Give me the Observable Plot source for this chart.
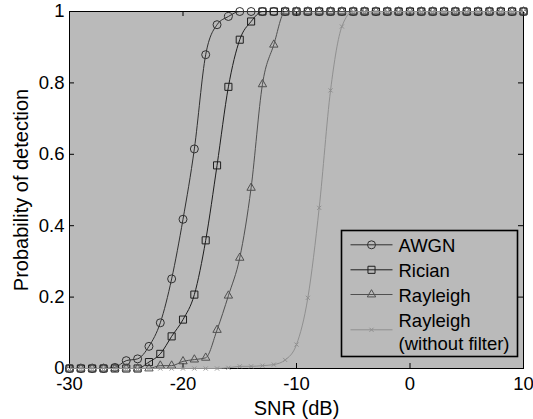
<!DOCTYPE html>
<html><head><meta charset="utf-8">
<script src="https://cdn.jsdelivr.net/npm/d3@7"></script>
<script src="https://cdn.jsdelivr.net/npm/@observablehq/plot@0.6"></script>
<style>body{margin:0;background:#fff;} svg{display:block}</style>
</head><body><div id="chart"></div>
<script>
// ---- data ----
const snr = [-30,-29,-28,-27,-26,-25,-24,-23,-22,-21,-20,-19,-18,-17,-16,-15,-14,-13,-12,-11,-10,-9,-8,-7,-6,-5,-4,-3,-2,-1,0,1,2,3,4,5,6,7,8,9,10];
const awgn = [0,0,0,0,0.003,0.022,0.027,0.062,0.128,0.251,0.418,0.615,0.879,0.963,0.986,1,1,1,1,1,1,1,1,1,1,1,1,1,1,1,1,1,1,1,1,1,1,1,1,1,1];
const rician = [0,0,0,0,0,0,0,0.018,0.041,0.09,0.137,0.207,0.359,0.569,0.789,0.921,0.972,1,1,1,1,1,1,1,1,1,1,1,1,1,1,1,1,1,1,1,1,1,1,1,1];
const rayleigh = [0,0,0,0,0,0,0,0,0.008,0.008,0.02,0.025,0.03,0.108,0.204,0.31,0.506,0.796,0.907,1,1,1,1,1,1,1,1,1,1,1,1,1,1,1,1,1,1,1,1,1,1];
const rayleighNoFilter = [0,0,0,0,0,0,0,0,0,0,0,0,0,0,0.002,0.006,0.006,0.008,0.011,0.024,0.067,0.198,0.45,0.779,0.958,1,1,1,1,1,1,1,1,1,1,1,1,1,1,1,1];
const seriesNames = ["AWGN", "Rician", "Rayleigh", "Rayleigh\n(without filter)"];
const xTicks = [-30, -20, -10, 0, 10];
const yTicks = [0, 0.2, 0.4, 0.6, 0.8, 1];
const xLabel = "SNR (dB)";
const yLabel = "Probability of detection";

// ---- styling ----
const W = 533, H = 419, mL = 69, mR = 10, mT = 11, mB = 51;
const plotW = W - mL - mR, plotH = H - mT - mB;
const bg = "#bababa";
const styles = [
  {values: awgn, symbol: "circle", color: "#303030", r: 4},
  {values: rician, symbol: "square", color: "#1e1e1e", r: 4},
  {values: rayleigh, symbol: "triangle2", color: "#505050", r: 4},
  {values: rayleighNoFilter, symbol: "times", color: "#909090", r: 2}
];
const font = "'Liberation Sans', Arial, Helvetica, sans-serif";
const tickFont = 18.5;

const marks = [
  Plot.frame({fill: bg}),
  Plot.tickX(xTicks, {x: d => d, stroke: "#000", insetTop: plotH - 5}),
  Plot.tickX(xTicks, {x: d => d, stroke: "#000", insetBottom: plotH - 5}),
  Plot.tickY(yTicks, {y: d => d, stroke: "#000", insetRight: plotW - 5}),
  Plot.tickY(yTicks, {y: d => d, stroke: "#000", insetLeft: plotW - 5}),
  Plot.frame({stroke: "#000", strokeWidth: 1}),
  Plot.axisX({ticks: xTicks, tickSize: 0, tickPadding: 8, tickFormat: d => String(d), fontSize: tickFont, label: null}),
  Plot.axisY({ticks: yTicks, tickSize: 0, tickPadding: 5, tickFormat: d => String(d), fontSize: tickFont, label: null}),
  Plot.text([xLabel], {frameAnchor: "bottom", dy: 40, textAnchor: "middle", lineAnchor: "middle", fontSize: 20, text: d => d, fill: "#000"}),
  Plot.text([yLabel], {frameAnchor: "left", dx: -48, rotate: -90, textAnchor: "middle", lineAnchor: "middle", fontSize: 20, text: d => d, fill: "#000"})
];

styles.forEach((s, i) => {
  const rows = snr.map((x, j) => ({snr: x, p: s.values[j]}));
  marks.push(Plot.line(rows, {x: "snr", y: "p", stroke: s.color, strokeWidth: 1, curve: "monotone-x"}));
  marks.push(Plot.dot(rows, {x: "snr", y: "p", stroke: s.color, fill: "none", strokeWidth: 1, symbol: s.symbol, r: s.r}));
});

// ---- legend (inside the plot frame) ----
const legLeft = 341 - mL, legTop = 230 - mT;
marks.push(Plot.frame({insetLeft: legLeft, insetTop: legTop, insetRight: 6, insetBottom: 12, fill: bg, stroke: "#000", strokeWidth: 1.6}));
const rowMarkerY = [233.3, 258.3, 283, 318.3];
const rowTextY = [233.3, 258.3, 283, 320];
const lineSym = {draw(ctx) { ctx.moveTo(-21, 0); ctx.lineTo(21, 0); }};
seriesNames.forEach((name, i) => {
  const s = styles[i];
  marks.push(Plot.dot([name], {frameAnchor: "top-left", dx: 302, dy: rowMarkerY[i], symbol: lineSym, stroke: s.color, fill: "none", strokeWidth: 1}));
  marks.push(Plot.dot([name], {frameAnchor: "top-left", dx: 302, dy: rowMarkerY[i], symbol: s.symbol, r: s.r, stroke: s.color, fill: "none", strokeWidth: 1}));
  marks.push(Plot.text([name], {frameAnchor: "top-left", dx: 329, dy: rowTextY[i], text: d => d, textAnchor: "start", lineAnchor: "middle", lineHeight: 1.23, fontSize: tickFont, fill: "#000"}));
});

const chart = Plot.plot({
  width: W, height: H,
  marginLeft: mL, marginRight: mR, marginTop: mT, marginBottom: mB,
  x: {domain: [-30, 10]},
  y: {domain: [0, 1]},
  style: {fontFamily: font, fontSize: tickFont + "px", color: "#000", background: "#fff", overflow: "visible"},
  marks
});
document.getElementById("chart").appendChild(chart);
</script>
</body></html>
